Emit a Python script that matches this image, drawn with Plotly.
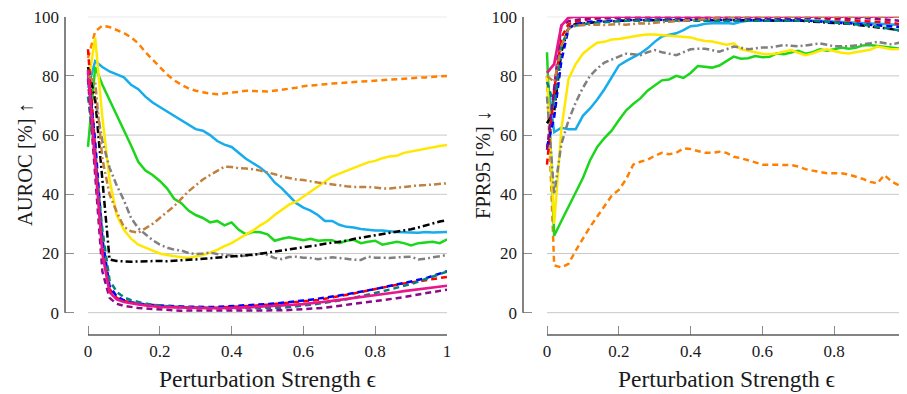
import plotly.graph_objects as go

# ---------------- data ----------------
eps = [0, 0.02, 0.04, 0.06, 0.08, 0.10, 0.12, 0.14, 0.16, 0.18,
       0.20, 0.22, 0.24, 0.26, 0.28, 0.30, 0.32, 0.34, 0.36, 0.38,
       0.40, 0.42, 0.44, 0.46, 0.48, 0.50, 0.52, 0.54, 0.56, 0.58,
       0.60, 0.62, 0.64, 0.66, 0.68, 0.70, 0.72, 0.74, 0.76, 0.78,
       0.80, 0.82, 0.84, 0.86, 0.88, 0.90, 0.92, 0.94, 0.96, 0.98, 1.0]

x_ticks = [0, 0.2, 0.4, 0.6, 0.8, 1]
x_ticklabels = ["0", "0.2", "0.4", "0.6", "0.8", "1"]
y_ticks = [0, 20, 40, 60, 80, 100]
y_ticklabels = ["0", "20", "40", "60", "80", "100"]

# AUROC (left panel)
auroc_orange = [86, 95, 97, 96.5, 95.5, 94.5, 93, 91, 88, 85.5,
                83, 80.5, 78.5, 77, 75.8, 75, 74.5, 74, 73.8, 74,
                74.3, 74.6, 75, 75, 74.8, 74.7, 75, 75.3, 75.8, 76,
                76.5, 76.8, 77, 77.2, 77.4, 77.6, 77.9, 78, 78.1, 78.2,
                78.4, 78.6, 78.8, 79, 79.2, 79.3, 79.4, 79.5, 79.6, 79.8, 80]
auroc_cyan = [76, 85, 83, 81.5, 80.5, 79.5, 77, 75.5, 73, 71,
              69.5, 68, 66.5, 65, 63.5, 62, 61.5, 60, 58, 56.8,
              56, 54, 52, 50.5, 49, 47, 44, 42, 39.5, 37,
              35.5, 34.5, 33, 31, 31, 29.7, 29, 28.8, 28.3, 28,
              27.8, 27.8, 27.5, 27.3, 27.2, 27.2, 27, 27.3, 27.1, 27.2, 27.3]
auroc_green = [56, 83, 77, 72, 67, 61.5, 56.5, 51, 48, 46.5,
               44.5, 42, 38.5, 37, 34.5, 33, 32, 30.5, 31, 29.5,
               30.5, 28, 26.5, 27.3, 27.2, 26.5, 24.3, 25, 25.5, 25,
               24.5, 25, 24.3, 24.5, 24.5, 23.5, 24.3, 24.6, 23.5, 24,
               24.3, 23, 23.5, 24, 23.5, 22.7, 23.5, 23.8, 24, 23.5, 24.8]
auroc_yellow = [77, 93, 66, 45, 33, 28, 25, 23, 22, 21,
                20, 19.5, 19, 18.7, 18.5, 19, 19.5, 20.3, 21.2, 22.5,
                23.5, 25, 26.3, 27.8, 29.5, 31, 33, 34.8, 36.5, 37.5,
                39.2, 41, 42.5, 44.5, 46, 47, 48, 48.8, 50, 50.8,
                51.3, 52.2, 52.8, 53, 54, 54.5, 54.8, 55.5, 56, 56.3, 56.7]
auroc_brown = [80, 78, 52, 40, 34, 29, 27.5, 27, 28.5, 30,
               32, 34, 36, 38.5, 41, 43, 45, 46.5, 48, 49.3,
               49.2, 48.8, 48.7, 48.5, 48, 47.5, 46.8, 46, 45.5, 45,
               44.8, 44.3, 44, 43.7, 43.3, 43, 42.7, 42.5, 42.6, 42.5,
               42.3, 42, 42, 42.3, 42.5, 42.8, 43, 43.1, 43.3, 43.5, 43.7]
auroc_gray = [73, 72, 58, 49, 43, 38, 32, 28.5, 26.5, 24.5,
              23, 22, 21.3, 21, 20.2, 19.8, 20, 20.3, 19.8, 19.5,
              19.2, 19, 19.3, 19.5, 20, 19.5, 18.5, 18.1, 18.8, 18.9,
              18.6, 18.5, 18.1, 18.4, 18.7, 18.5, 18.1, 17.9, 17.8, 18.9,
              18.6, 18.5, 18.5, 18.7, 18.9, 18.9, 18, 18.2, 18.7, 19.2, 19.5]
auroc_black = [83, 72, 45, 18, 17.5, 17.3, 17.2, 17.3, 17.4, 17.5,
               17.5, 17.4, 17.5, 17.6, 17.8, 18, 18.2, 18.4, 18.6, 18.8,
               18.9, 19, 19.3, 19.6, 19.9, 20.2, 20.5, 21, 21.4, 21.7,
               22, 22.4, 22.8, 23.3, 23.6, 23.9, 24.3, 24.9, 25.3, 25.7,
               26, 26.4, 26.8, 27.3, 27.8, 28.2, 28.8, 29.5, 30.2, 30.8, 31.3]
auroc_red = [89, 55, 22, 8, 5, 4, 3.4, 3, 2.7, 2.4,
             2.2, 2, 1.9, 1.8, 1.7, 1.7, 1.6, 1.6, 1.7, 1.8,
             1.9, 2, 2.2, 2.3, 2.5, 2.7, 2.9, 3.1, 3.3, 3.5,
             3.7, 4, 4.3, 4.7, 5.1, 5.5, 6, 6.5, 7, 7.5,
             8, 8.5, 9, 9.5, 9.9, 10.2, 10.6, 11, 11.4, 11.8, 12.1]
auroc_blue = [81, 58, 25, 9, 5.5, 4.2, 3.5, 3.1, 2.8, 2.6,
              2.4, 2.3, 2.2, 2.1, 2, 1.9, 1.9, 1.9, 2, 2.1,
              2.2, 2.3, 2.4, 2.6, 2.7, 2.9, 3.1, 3.3, 3.6, 3.8,
              4.1, 4.4, 4.7, 5, 5.4, 5.8, 6.2, 6.6, 7.1, 7.5,
              8, 8.5, 9, 9.4, 9.9, 10.4, 11, 11.6, 12.4, 13.2, 14]
auroc_teal = [73, 52, 28, 11, 7, 5.2, 4.2, 3.6, 3.1, 2.7,
              2.4, 2.2, 2, 1.9, 1.8, 1.7, 1.6, 1.6, 1.5, 1.5,
              1.5, 1.5, 1.5, 1.5, 1.5, 1.6, 1.6, 1.7, 1.9, 2.1,
              2.4, 2.7, 3, 3.3, 3.7, 4.1, 4.5, 5, 5.5, 6,
              6.6, 7.2, 7.8, 8.4, 9, 9.7, 10.5, 11.3, 12.2, 13.1, 13.9]
auroc_purple = [79, 48, 14, 5, 3, 2.3, 1.9, 1.6, 1.4, 1.2,
                1, 0.9, 0.8, 0.7, 0.7, 0.6, 0.6, 0.6, 0.6, 0.6,
                0.6, 0.6, 0.6, 0.7, 0.7, 0.7, 0.8, 0.8, 0.9, 1,
                1.1, 1.3, 1.5, 1.7, 2, 2.3, 2.6, 2.9, 3.2, 3.5,
                3.8, 4.1, 4.5, 4.9, 5.3, 5.7, 6.1, 6.5, 6.9, 7.4, 7.8]
auroc_magenta = [82, 50, 20, 7, 4.5, 3.6, 3.1, 2.8, 2.5, 2.2,
                 2, 1.9, 1.8, 1.7, 1.6, 1.5, 1.5, 1.5, 1.5, 1.5,
                 1.6, 1.7, 1.8, 1.9, 2, 2.1, 2.2, 2.4, 2.5, 2.7,
                 2.9, 3.1, 3.4, 3.7, 4, 4.3, 4.6, 5, 5.4, 5.7,
                 6, 6.3, 6.6, 6.9, 7.3, 7.6, 7.9, 8.2, 8.5, 8.8, 9.1]

# FPR95 (right panel)
fpr_orange = [80, 16, 15.3, 16.5, 21, 25, 29, 32.5, 36, 39.5,
              41.5, 45, 50, 51, 51.7, 53, 54, 53.5, 54, 55.5,
              55.3, 54.6, 54, 54, 54.4, 54, 52.7, 52.2, 51.6, 50.8,
              50, 50, 49.9, 50, 49.9, 49.4, 48.5, 48, 47.5, 47.1,
              47.1, 47.1, 46.7, 46, 45.2, 44.2, 43.7, 46.5, 44.3, 43, 42]
fpr_cyan = [80, 61, 62.5, 62, 62, 66.5, 69, 72, 75.5, 79.5,
            83.5, 85, 86.2, 87.6, 89.3, 91.5, 93.3, 93.8, 94.4, 95.5,
            96.8, 97, 97.6, 97.8, 97.8, 97.9, 97.6, 98.3, 98.6, 98.6,
            98.6, 98.7, 98.7, 98.8, 98.8, 98.8, 98.7, 98.7, 98.6, 98.5,
            98.4, 98.3, 98.2, 98.1, 98, 97.9, 97.8, 97.6, 97.4, 97.2, 97]
fpr_green = [88, 26, 31, 36, 41, 45.5, 51.5, 56, 59, 61.5,
             65, 68.3, 70.5, 72.4, 75, 76.6, 78.5, 78.8, 80, 79.3,
             81, 83.3, 83, 82.8, 83.5, 85, 86.5, 85.8, 86, 86.7,
             86.3, 86.5, 87.6, 87.3, 88, 88.5, 87.5, 88, 89, 88.5,
             89, 89.6, 89.2, 89.5, 90.3, 90.4, 90.1, 89.8, 89.4, 89.2, 89]
fpr_yellow = [80, 30, 62, 79, 84, 87.5, 89.5, 91.2, 91.5, 92.3,
              92.5, 93, 93.3, 93.7, 94, 94, 93.8, 93.6, 93.5, 93.3,
              93, 92.3, 91.8, 91.6, 91, 90.5, 91, 89, 88.5, 88,
              87.5, 87.3, 87.6, 88.2, 88.7, 87.8, 87, 87.6, 88.5, 89,
              88.3, 87.8, 87.6, 88, 88.2, 88.8, 89.9, 89.4, 89, 89.1, 89.3]
fpr_brown = [80, 78, 90, 96, 97, 97.2, 97.3, 97.3, 97.2, 97.4,
             97.5, 97.3, 97.6, 97.8, 97.6, 98, 98.2, 98.3, 98.5, 98.7,
             98.9, 99.1, 99.3, 99.5, 99.6, 99.7, 99.8, 99.9, 100, 100,
             100, 100, 100, 100, 100, 100, 100, 100, 100, 100,
             100, 100, 100, 100, 100, 100, 100, 100, 100, 100, 100]
fpr_gray = [73, 40, 57, 65, 71, 76, 80, 82.5, 84.5, 85.5,
            86.5, 87.5, 87.3, 87, 88, 88.7, 88, 87.5, 87, 88,
            89, 89.2, 89.2, 88.7, 88.2, 89, 89.9, 89.5, 89, 89.3,
            89.6, 89.6, 90, 90.4, 90.2, 90, 90.3, 90.7, 91, 90.5,
            90, 90, 90, 90.3, 90.6, 91, 91.5, 91, 90.6, 91.2, 91.6]
fpr_black = [64, 68, 88, 96.5, 97.5, 97.8, 98, 98.2, 98.3, 98.5,
             98.6, 98.7, 98.8, 98.8, 98.9, 98.9, 99, 99, 99, 99,
             98.9, 99, 99, 99, 98.9, 99, 98.8, 98.9, 98.8, 98.8,
             98.7, 98.8, 98.6, 98.7, 98.6, 98.7, 98.5, 98.3, 98.2, 97.9,
             97.8, 97.7, 97.6, 97.3, 97.2, 96.9, 96.6, 96.3, 95.8, 95.4, 95.3]
fpr_red = [50, 75, 93, 97.5, 98.3, 98.8, 99.2, 99.4, 99.5, 99.6,
           99.7, 99.7, 99.8, 99.8, 99.8, 99.8, 99.8, 99.8, 99.8, 99.8,
           99.8, 99.8, 99.8, 99.8, 99.8, 99.8, 99.8, 99.8, 99.8, 99.8,
           99.8, 99.8, 99.8, 99.8, 99.8, 99.8, 99.7, 99.6, 99.5, 99.4,
           99.2, 99, 98.8, 98.7, 98.6, 98.5, 98.4, 98.2, 98, 97.5, 97.2]
fpr_blue = [56, 66, 85, 96, 97.5, 98, 98.3, 98.5, 98.6, 98.7,
            98.8, 98.9, 99, 99, 99, 99, 99, 99, 99, 99,
            99, 99, 99, 99, 99, 99, 99, 99, 99, 99,
            99, 99, 99, 99, 99, 99, 98.8, 98.5, 98.3, 98.2,
            98, 97.9, 97.8, 97.6, 97.3, 97.2, 97, 96.8, 96.6, 96.5, 96.4]
fpr_teal = [78, 70, 90, 96, 97, 97.5, 97.8, 98, 98.2, 98.4,
            98.5, 98.6, 98.7, 98.7, 98.8, 98.8, 98.8, 98.8, 98.8, 98.8,
            98.8, 98.8, 98.8, 98.8, 98.8, 98.8, 98.8, 98.8, 98.8, 98.8,
            98.8, 98.8, 98.8, 98.8, 98.8, 98.8, 98.7, 98.6, 98.5, 98.3,
            98, 97.8, 97.6, 97.5, 97.2, 97, 96.6, 96.2, 95.7, 95.4, 95.3]
fpr_purple = [55, 76, 97, 98.5, 99, 99.3, 99.5, 99.6, 99.7, 99.8,
              99.8, 99.8, 99.8, 99.8, 99.8, 99.8, 99.8, 99.8, 99.8, 99.8,
              99.8, 99.8, 99.8, 99.8, 99.8, 99.8, 99.8, 99.8, 99.8, 99.8,
              99.8, 99.8, 99.8, 99.8, 99.8, 99.8, 99.8, 99.8, 99.8, 99.7,
              99.7, 99.6, 99.6, 99.5, 99.5, 99.4, 99.2, 99, 98.8, 98.6, 98.5]
fpr_magenta = [81, 84, 97, 99.7, 100, 100, 100, 100, 100, 100,
               100, 100, 100, 100, 100, 100, 100, 100, 100, 100,
               100, 100, 100, 100, 100, 100, 100, 100, 100, 100,
               100, 100, 100, 100, 100, 100, 100, 100, 100, 100,
               100, 100, 100, 100, 100, 100, 100, 100, 100, 100, 100]

# ---------------- styles ----------------
DASH = "6px,4px"
DASHDOT = "7px,3px,2px,3px"
series = [
    (auroc_orange, fpr_orange, "#ff8000", DASH, 2.5),
    (auroc_cyan, fpr_cyan, "#17aceb", "solid", 2.5),
    (auroc_green, fpr_green, "#1cd61c", "solid", 2.5),
    (auroc_yellow, fpr_yellow, "#ffe800", "solid", 2.5),
    (auroc_gray, fpr_gray, "#808080", DASHDOT, 2.5),
    (auroc_black, fpr_black, "#000000", DASHDOT, 2.5),
    (auroc_red, fpr_red, "#ff0000", DASH, 2.5),
    (auroc_blue, fpr_blue, "#0000ff", DASH, 2.5),
    (auroc_teal, fpr_teal, "#008080", DASH, 2.5),
    (auroc_purple, fpr_purple, "#8a0a8a", DASH, 2.5),
    (auroc_magenta, fpr_magenta, "#e8168a", "solid", 2.7),
    (auroc_brown, fpr_brown, "#c08040", DASHDOT, 2.5),
]

fig = go.Figure()
for a_vals, f_vals, color, dash, w in series:
    line = dict(color=color, dash=dash, width=w)
    fig.add_trace(go.Scatter(x=eps, y=a_vals, mode="lines", line=line,
                             xaxis="x", yaxis="y", showlegend=False,
                             cliponaxis=False))
    fig.add_trace(go.Scatter(x=eps, y=f_vals, mode="lines", line=line,
                             xaxis="x2", yaxis="y2", showlegend=False,
                             cliponaxis=False))

# The page body has an 8px margin; lay out in page pixels and shift.
OFF = 8
W, H = 907 - OFF, 394 - OFF
FONT = "Liberation Serif, DejaVu Serif, serif"
px_per_x = 359.0
px_per_y = 2.96
y_bottom_px = 335.0 - OFF
y_zero_px = 312.7 - OFF
y_top_px = 16.7 - OFF

def xaxis_cfg(left_px, zero_px):
    left_px -= OFF
    zero_px -= OFF
    return dict(
        domain=[left_px / W, min(1.0, (zero_px + px_per_x) / W)],
        range=[-(zero_px - left_px) / px_per_x, 1],
        autorange=False, automargin=False,
        tickvals=x_ticks, ticktext=x_ticklabels,
        ticks="inside", ticklen=9, tickwidth=1.2, tickcolor="#8c8c8c",
        showgrid=False, zeroline=False, showline=False,
        tickfont=dict(family=FONT, size=17, color="#1a1a1a"),
        ticklabelstandoff=4, ticklabeloverflow="allow",
    )

def yaxis_cfg():
    return dict(
        domain=[(H - y_bottom_px) / H, (H - y_top_px) / H],
        range=[-(y_bottom_px - y_zero_px) / px_per_y, 100],
        autorange=False, automargin=False,
        tickvals=y_ticks, ticktext=y_ticklabels,
        ticks="inside", ticklen=9, tickwidth=1.2, tickcolor="#8c8c8c",
        showgrid=False, zeroline=False, showline=False,
        tickfont=dict(family=FONT, size=17, color="#1a1a1a"),
        ticklabelstandoff=5, ticklabeloverflow="allow",
    )

ax1 = xaxis_cfg(65, 88)
ax2 = xaxis_cfg(523, 547)
ax2["anchor"] = "y2"
ay1 = yaxis_cfg()
ay2 = yaxis_cfg()
ay2["anchor"] = "x2"

shapes = []
for xr, yr in (("x", "y"), ("x2", "y2")):
    for yv in y_ticks:
        shapes.append(dict(type="line", xref=xr, yref=yr, x0=0, x1=1, y0=yv, y1=yv,
                           line=dict(color="#c8c8c8", width=1), layer="below"))
    shapes.append(dict(type="line", xref=xr + " domain", yref=yr, x0=0, x1=0, y0=0, y1=100,
                       line=dict(color="#5a5a5a", width=1.5), layer="above"))
    shapes.append(dict(type="line", xref=xr, yref=yr + " domain", x0=0, x1=1, y0=0, y1=0,
                       line=dict(color="#5a5a5a", width=1.5), layer="above"))

def px_x(p):
    return (p - OFF) / W

def px_y(p):
    return (H - (p - OFF)) / H

title_font = dict(family=FONT, size=23.5, color="#1a1a1a")
annotations = [
    dict(text="Perturbation Strength ϵ", x=px_x((88 + 447) / 2), y=px_y(379),
         xref="paper", yref="paper", showarrow=False, xanchor="center", yanchor="middle",
         font=title_font),
    dict(text="Perturbation Strength ϵ", x=px_x((547 + 906) / 2), y=px_y(379),
         xref="paper", yref="paper", showarrow=False, xanchor="center", yanchor="middle",
         font=title_font),
    dict(text="AUROC [%] ↑", x=px_x(25), y=px_y(165), textangle=-90,
         xref="paper", yref="paper", showarrow=False, xanchor="center", yanchor="middle",
         font=dict(family=FONT, size=20.5, color="#1a1a1a")),
    dict(text="FPR95 [%] ↓", x=px_x(483), y=px_y(165), textangle=-90,
         xref="paper", yref="paper", showarrow=False, xanchor="center", yanchor="middle",
         font=dict(family=FONT, size=20.5, color="#1a1a1a")),
]

fig.update_layout(
    width=W, height=H,
    margin=dict(l=0, r=0, t=0, b=0, autoexpand=False),
    paper_bgcolor="white", plot_bgcolor="white",
    xaxis=ax1, yaxis=ay1, xaxis2=ax2, yaxis2=ay2,
    shapes=shapes, annotations=annotations,
    showlegend=False,
)

fig.write_html("out.html")
